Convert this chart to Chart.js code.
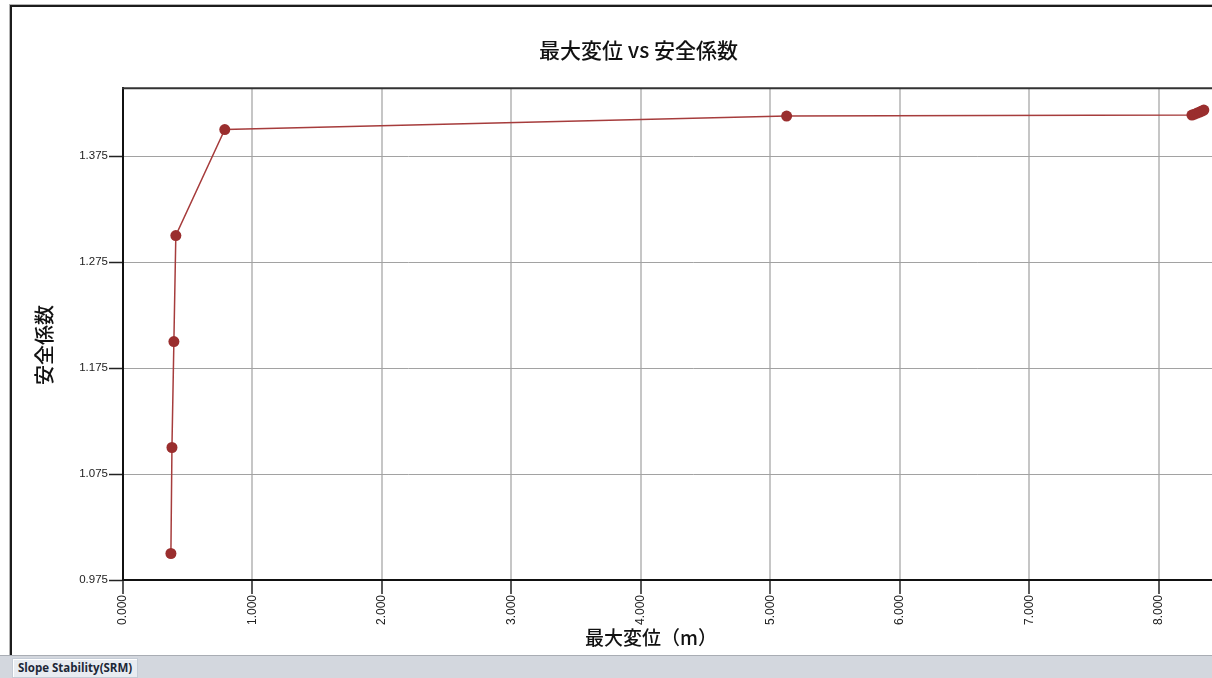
<!DOCTYPE html>
<html>
<head>
<meta charset="utf-8">
<script src="https://cdn.jsdelivr.net/npm/chart.js@4/dist/chart.umd.min.js"></script>
<style>
  html, body { margin: 0; padding: 0; width: 1212px; height: 678px; overflow: hidden; background: #fff; }
  #frame { position: absolute; left: 10px; top: 5px; width: 1300px; height: 651px;
           border-left: 2px solid #1c1c1c; border-top: 2px solid #1c1c1c;
           box-shadow: -1px -1px 0 #b4b4b4; box-sizing: border-box; }
  #wrap { position: absolute; left: 12px; top: 7px; width: 1256px; height: 649px; }
  #status { position: absolute; left: 0; top: 655px; width: 1212px; height: 23px;
            background: #d3d7de; border-top: 1px solid #a9adb4; }
  #tab { position: absolute; left: 12px; top: 2px; height: 18px; padding: 0 5px;
         background: #e8ecf1; border: 1px solid #c5ccd6; box-shadow: inset 1px 1px 0 #fff;
         font: bold 11.5px "Open Sans", "DejaVu Sans", sans-serif; color: #1d2838; line-height: 18px; }
</style>
</head>
<body>
<div id="frame"></div>
<div id="wrap"><canvas id="c"></canvas></div>
<div id="status"><div id="tab">Slope Stability(SRM)</div></div>
<script>
// Data
const maxDisplacement = [0.370, 0.378, 0.393, 0.408, 0.786, 5.125, 8.255, 8.275, 8.295, 8.315, 8.332, 8.347];
const safetyFactor    = [1.000, 1.100, 1.200, 1.300, 1.400, 1.4127, 1.4137, 1.4145, 1.4155, 1.4165, 1.4175, 1.4184];
const xTicks = [0, 1, 2, 3, 4, 5, 6, 7, 8];
const yTicks = [0.975, 1.075, 1.175, 1.275, 1.375];
const chartTitle = '最大変位 vs 安全係数';
const xTitle = '最大変位（m）';
const yTitle = '安全係数';

const points = maxDisplacement.map((x, i) => ({ x: x, y: safetyFactor[i] }));
const titleFont = '500 19px "Noto Sans CJK JP", sans-serif';

const extras = {
  id: 'extras',
  beforeDatasetsDraw(chart) {
    const { ctx, chartArea } = chart;
    ctx.save();
    ctx.strokeStyle = '#333';
    ctx.lineWidth = 2;
    ctx.beginPath();
    ctx.moveTo(chartArea.left - 1, chartArea.top);
    ctx.lineTo(chartArea.right, chartArea.top);
    ctx.stroke();
    ctx.restore();
  },
  afterDraw(chart) {
    const { ctx } = chart;
    ctx.save();
    ctx.fillStyle = '#111';
    ctx.font = titleFont;
    ctx.textAlign = 'center';
    ctx.textBaseline = 'middle';
    ctx.fillText(xTitle, 639, 631);
    ctx.font = '500 20px "Noto Sans CJK JP", sans-serif';
    ctx.translate(32, 338);
    ctx.rotate(-Math.PI / 2);
    ctx.fillText(yTitle, 0, 0);
    ctx.restore();
  }
};

new Chart(document.getElementById('c'), {
  type: 'line',
  data: {
    datasets: [{
      data: points,
      borderColor: '#a63c3c',
      borderWidth: 1.5,
      backgroundColor: '#9a2e2e',
      pointBackgroundColor: '#9a2e2e',
      pointBorderColor: '#9a2e2e',
      pointRadius: 5.5,
      pointBorderWidth: 0,
      tension: 0,
      fill: false
    }]
  },
  options: {
    responsive: true,
    maintainAspectRatio: false,
    animation: false,
    layout: { padding: { left: 0, right: 3, top: 0, bottom: 0 } },
    plugins: {
      legend: { display: false },
      tooltip: { enabled: false },
      title: {
        display: true,
        text: chartTitle,
        color: '#111',
        font: { family: '"Noto Sans CJK JP", sans-serif', size: 21, weight: 500, lineHeight: 1.2 },
        padding: { top: 30, bottom: 26 }
      }
    },
    scales: {
      x: {
        type: 'linear',
        min: 0,
        max: 8.8,
        afterBuildTicks: (s) => { s.ticks = xTicks.map(v => ({ value: v })); },
        afterFit: (s) => { s.height = 76; },
        ticks: {
          minRotation: 90,
          maxRotation: 90,
          padding: 1,
          color: '#222',
          font: { family: '"Liberation Sans", Arial, sans-serif', size: 12 },
          callback: (v) => Number(v).toFixed(3)
        },
        grid: { color: '#c6c6c6', lineWidth: 2, tickLength: 14, tickColor: '#222', tickWidth: 1.5 },
        border: { color: '#111', width: 2 }
      },
      y: {
        type: 'linear',
        min: 0.975,
        max: 1.439,
        afterBuildTicks: (s) => { s.ticks = yTicks.map(v => ({ value: v })); },
        afterFit: (s) => { s.width = 111; },
        ticks: {
          padding: 1,
          color: '#222',
          font: { family: '"Liberation Sans", Arial, sans-serif', size: 11.5 },
          callback: (v) => Number(v).toFixed(3)
        },
        grid: { color: '#a2a2a2', lineWidth: 1, tickLength: 14, tickColor: '#222', tickWidth: 1.5 },
        border: { color: '#111', width: 2 }
      }
    }
  },
  plugins: [extras]
});
</script>
</body>
</html>
